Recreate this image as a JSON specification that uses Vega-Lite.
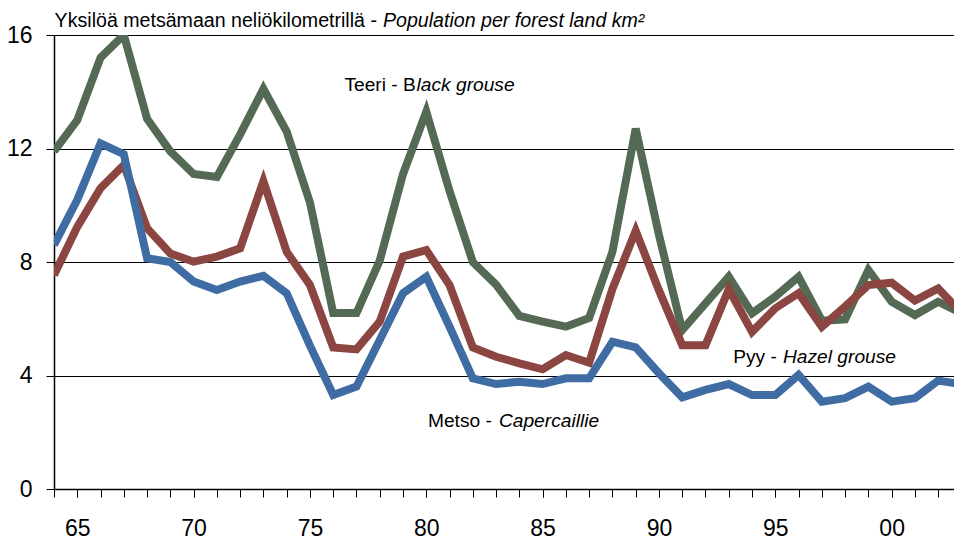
{
  "$schema": "https://vega.github.io/schema/vega-lite/v6.json",
  "width": 900,
  "height": 454,
  "autosize": "none",
  "padding": {"left": 54, "top": 35, "right": 0, "bottom": 51},
  "background": "white",
  "config": {
    "view": {"stroke": null},
    "font": "Liberation Sans",
    "axis": {"labelFont": "Liberation Sans", "labelColor": "black"}
  },
  "resolve": {"axis": {"x": "independent"}},
  "datasets": {
    "series": [
      {"year":1964,"species":"Teeri","value":11.9},{"year":1965,"species":"Teeri","value":13.0},{"year":1966,"species":"Teeri","value":15.2},{"year":1967,"species":"Teeri","value":16.0},{"year":1968,"species":"Teeri","value":13.05},{"year":1969,"species":"Teeri","value":11.9},{"year":1970,"species":"Teeri","value":11.1},{"year":1971,"species":"Teeri","value":11.0},{"year":1972,"species":"Teeri","value":12.5},{"year":1973,"species":"Teeri","value":14.1},{"year":1974,"species":"Teeri","value":12.6},{"year":1975,"species":"Teeri","value":10.1},{"year":1976,"species":"Teeri","value":6.2},{"year":1977,"species":"Teeri","value":6.2},{"year":1978,"species":"Teeri","value":8.05},{"year":1979,"species":"Teeri","value":11.1},{"year":1980,"species":"Teeri","value":13.3},{"year":1981,"species":"Teeri","value":10.5},{"year":1982,"species":"Teeri","value":8.0},{"year":1983,"species":"Teeri","value":7.2},{"year":1984,"species":"Teeri","value":6.1},{"year":1985,"species":"Teeri","value":5.9},{"year":1986,"species":"Teeri","value":5.72},{"year":1987,"species":"Teeri","value":6.03},{"year":1988,"species":"Teeri","value":8.36},{"year":1989,"species":"Teeri","value":12.7},{"year":1990,"species":"Teeri","value":8.95},{"year":1991,"species":"Teeri","value":5.6},{"year":1992,"species":"Teeri","value":6.54},{"year":1993,"species":"Teeri","value":7.48},{"year":1994,"species":"Teeri","value":6.19},{"year":1995,"species":"Teeri","value":6.78},{"year":1996,"species":"Teeri","value":7.48},{"year":1997,"species":"Teeri","value":5.93},{"year":1998,"species":"Teeri","value":5.98},{"year":1999,"species":"Teeri","value":7.72},{"year":2000,"species":"Teeri","value":6.6},{"year":2001,"species":"Teeri","value":6.13},{"year":2002,"species":"Teeri","value":6.6},{"year":2003,"species":"Teeri","value":6.2},
      {"year":1964,"species":"Pyy","value":7.54},{"year":1965,"species":"Pyy","value":9.24},{"year":1966,"species":"Pyy","value":10.6},{"year":1967,"species":"Pyy","value":11.42},{"year":1968,"species":"Pyy","value":9.19},{"year":1969,"species":"Pyy","value":8.3},{"year":1970,"species":"Pyy","value":8.01},{"year":1971,"species":"Pyy","value":8.19},{"year":1972,"species":"Pyy","value":8.48},{"year":1973,"species":"Pyy","value":10.85},{"year":1974,"species":"Pyy","value":8.36},{"year":1975,"species":"Pyy","value":7.19},{"year":1976,"species":"Pyy","value":4.99},{"year":1977,"species":"Pyy","value":4.92},{"year":1978,"species":"Pyy","value":5.9},{"year":1979,"species":"Pyy","value":8.19},{"year":1980,"species":"Pyy","value":8.42},{"year":1981,"species":"Pyy","value":7.19},{"year":1982,"species":"Pyy","value":4.99},{"year":1983,"species":"Pyy","value":4.66},{"year":1984,"species":"Pyy","value":4.43},{"year":1985,"species":"Pyy","value":4.22},{"year":1986,"species":"Pyy","value":4.72},{"year":1987,"species":"Pyy","value":4.45},{"year":1988,"species":"Pyy","value":7.05},{"year":1989,"species":"Pyy","value":9.1},{"year":1990,"species":"Pyy","value":7.0},{"year":1991,"species":"Pyy","value":5.07},{"year":1992,"species":"Pyy","value":5.07},{"year":1993,"species":"Pyy","value":7.04},{"year":1994,"species":"Pyy","value":5.54},{"year":1995,"species":"Pyy","value":6.37},{"year":1996,"species":"Pyy","value":6.9},{"year":1997,"species":"Pyy","value":5.72},{"year":1998,"species":"Pyy","value":6.43},{"year":1999,"species":"Pyy","value":7.19},{"year":2000,"species":"Pyy","value":7.27},{"year":2001,"species":"Pyy","value":6.64},{"year":2002,"species":"Pyy","value":7.07},{"year":2003,"species":"Pyy","value":6.2},
      {"year":1964,"species":"Metso","value":8.6},{"year":1965,"species":"Metso","value":10.19},{"year":1966,"species":"Metso","value":12.18},{"year":1967,"species":"Metso","value":11.8},{"year":1968,"species":"Metso","value":8.13},{"year":1969,"species":"Metso","value":8.0},{"year":1970,"species":"Metso","value":7.31},{"year":1971,"species":"Metso","value":7.01},{"year":1972,"species":"Metso","value":7.31},{"year":1973,"species":"Metso","value":7.51},{"year":1974,"species":"Metso","value":6.9},{"year":1975,"species":"Metso","value":5.05},{"year":1976,"species":"Metso","value":3.31},{"year":1977,"species":"Metso","value":3.61},{"year":1978,"species":"Metso","value":5.25},{"year":1979,"species":"Metso","value":6.9},{"year":1980,"species":"Metso","value":7.48},{"year":1981,"species":"Metso","value":5.72},{"year":1982,"species":"Metso","value":3.9},{"year":1983,"species":"Metso","value":3.7},{"year":1984,"species":"Metso","value":3.78},{"year":1985,"species":"Metso","value":3.7},{"year":1986,"species":"Metso","value":3.9},{"year":1987,"species":"Metso","value":3.9},{"year":1988,"species":"Metso","value":5.19},{"year":1989,"species":"Metso","value":4.99},{"year":1990,"species":"Metso","value":4.08},{"year":1991,"species":"Metso","value":3.23},{"year":1992,"species":"Metso","value":3.49},{"year":1993,"species":"Metso","value":3.7},{"year":1994,"species":"Metso","value":3.31},{"year":1995,"species":"Metso","value":3.31},{"year":1996,"species":"Metso","value":4.02},{"year":1997,"species":"Metso","value":3.08},{"year":1998,"species":"Metso","value":3.2},{"year":1999,"species":"Metso","value":3.61},{"year":2000,"species":"Metso","value":3.08},{"year":2001,"species":"Metso","value":3.2},{"year":2002,"species":"Metso","value":3.82},{"year":2003,"species":"Metso","value":3.7}
    ],
    "regularText": [
      {"text":"Yksilöä metsämaan neliökilometrillä -","year":1977.88,"value":16.28,"kind":"title"},
      {"text":"Teeri - B","year":1979.55,"value":14.03,"kind":"label"},
      {"text":"Metso -","year":1982.82,"value":2.19,"kind":"label"},
      {"text":"Pyy -","year":1995.07,"value":4.44,"kind":"label"}
    ],
    "italicText": [
      {"text":"Population per forest land km²","year":1978.14,"value":16.28,"kind":"title"},
      {"text":"lack grouse","year":1979.58,"value":14.03,"kind":"label"},
      {"text":"Capercaillie","year":1983.12,"value":2.19,"kind":"label"},
      {"text":"Hazel grouse","year":1995.33,"value":4.44,"kind":"label"}
    ]
  },
  "layer": [
    {
      "data": {"name": "series"},
      "mark": {"type": "line", "strokeWidth": 8, "clip": true, "strokeJoin": "miter", "strokeCap": "butt"},
      "encoding": {
        "x": {
          "field": "year", "type": "quantitative",
          "scale": {"domain": [1964, 2002.68], "nice": false, "zero": false},
          "axis": {
            "title": null,
            "orient": "bottom",
            "values": [1964,1965,1966,1967,1968,1969,1970,1971,1972,1973,1974,1975,1976,1977,1978,1979,1980,1981,1982,1983,1984,1985,1986,1987,1988,1989,1990,1991,1992,1993,1994,1995,1996,1997,1998,1999,2000,2001,2002],
            "labels": false,
            "grid": false,
            "domainColor": "black", "domainWidth": 1.5,
            "tickColor": "black", "tickSize": 8, "tickWidth": 1
          }
        },
        "y": {
          "field": "value", "type": "quantitative",
          "scale": {"domain": [0, 16], "nice": false},
          "axis": {
            "title": null,
            "values": [0, 4, 8, 12, 16],
            "grid": true, "gridColor": "black", "gridWidth": 1, "gridOpacity": 1,
            "domainColor": "black", "domainWidth": 1.5,
            "tickColor": "black", "tickSize": 8,
            "labelFontSize": 23, "labelPadding": 14
          }
        },
        "color": {
          "field": "species", "type": "nominal",
          "scale": {"domain": ["Teeri", "Pyy", "Metso"], "range": ["#546A55", "#8C4641", "#3F6CA3"]},
          "legend": null
        }
      }
    },
    {
      "data": {"name": "regularText"},
      "transform": [{"filter": "datum.kind == 'title'"}],
      "mark": {"type": "text", "align": "right", "baseline": "alphabetic", "fontSize": 19.6, "color": "black"},
      "encoding": {
        "x": {
          "field": "year", "type": "quantitative",
          "axis": {
            "title": null,
            "orient": "bottom",
            "values": [1965, 1970, 1975, 1980, 1985, 1990, 1995, 2000],
            "labelExpr": "substring(toString(datum.value), 2, 4)",
            "grid": false, "domain": false,
            "tickColor": "black", "tickSize": 8, "tickWidth": 1,
            "labelFontSize": 23, "labelPadding": 20, "labelFlush": false, "labelOverlap": false
          }
        },
        "y": {"field": "value", "type": "quantitative"},
        "text": {"field": "text"}
      }
    },
    {
      "data": {"name": "italicText"},
      "transform": [{"filter": "datum.kind == 'title'"}],
      "mark": {"type": "text", "align": "left", "baseline": "alphabetic", "fontSize": 19.6, "fontStyle": "italic", "color": "black"},
      "encoding": {
        "x": {"field": "year", "type": "quantitative", "axis": null},
        "y": {"field": "value", "type": "quantitative"},
        "text": {"field": "text"}
      }
    },
    {
      "data": {"name": "regularText"},
      "transform": [{"filter": "datum.kind == 'label'"}],
      "mark": {"type": "text", "align": "right", "baseline": "alphabetic", "fontSize": 19.2, "color": "black"},
      "encoding": {
        "x": {"field": "year", "type": "quantitative", "axis": null},
        "y": {"field": "value", "type": "quantitative"},
        "text": {"field": "text"}
      }
    },
    {
      "data": {"name": "italicText"},
      "transform": [{"filter": "datum.kind == 'label'"}],
      "mark": {"type": "text", "align": "left", "baseline": "alphabetic", "fontSize": 19.2, "fontStyle": "italic", "color": "black"},
      "encoding": {
        "x": {"field": "year", "type": "quantitative", "axis": null},
        "y": {"field": "value", "type": "quantitative"},
        "text": {"field": "text"}
      }
    }
  ]
}
